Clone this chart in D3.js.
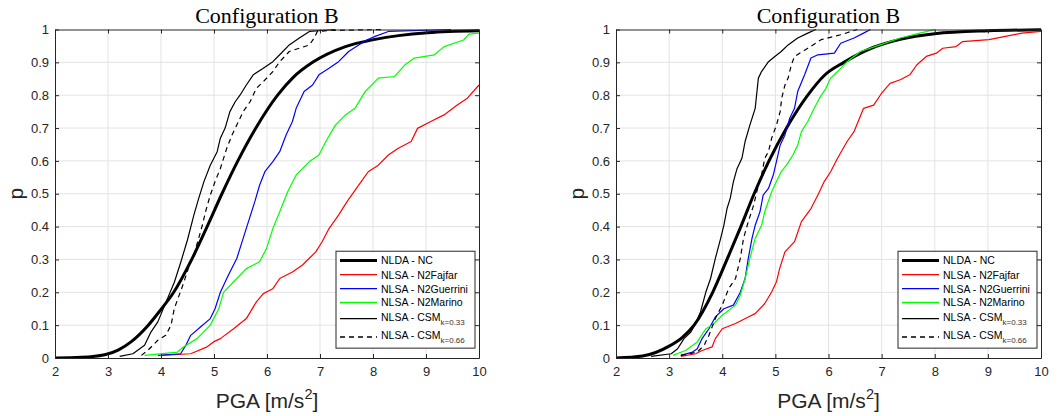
<!DOCTYPE html>
<html>
<head>
<meta charset="utf-8">
<script src="https://cdn.jsdelivr.net/npm/d3@7"></script>
<style>
    body { margin: 0; background: #fff; }
    svg { display: block; }
</style>
</head>
<body>
<svg id="chart" width="1059" height="416"></svg>
<script>
; (function () {

    // tick values / labels
    var xTicks = [2, 3, 4, 5, 6, 7, 8, 9, 10]
    var yTicks = [0, 0.1, 0.2, 0.3, 0.4, 0.5, 0.6, 0.7, 0.8, 0.9, 1]
    var yTickLabels = ["0", "0.1", "0.2", "0.3", "0.4", "0.5", "0.6", "0.7", "0.8", "0.9", "1"]

    var panelTitles = ["Configuration B", "Configuration B"]
    var seriesNames = ["NLDA - NC", "NLSA - N2Fajfar", "NLSA - N2Guerrini", "NLSA - N2Marino", "NLSA - CSM", "NLSA - CSM"]
    var seriesSubs = ["", "", "", "", "k=0.33", "k=0.66"]

    // left panel: [PGA, p]
    var leftNC = [[2, 0], [2.5, 0.002], [2.94, 0.01], [3.2, 0.025], [3.44, 0.05], [3.76, 0.1], [4.0, 0.148], [4.24, 0.2], [4.58, 0.3], [4.87, 0.4], [5.15, 0.5], [5.45, 0.6], [5.79, 0.7], [6.2, 0.8], [6.5, 0.855], [6.86, 0.9], [7.48, 0.948], [8.04, 0.97], [9.03, 0.99], [10, 0.996]]
    var leftFajfar = [[4.0, 0.008], [4.56, 0.013], [4.87, 0.034], [4.99, 0.049], [5.12, 0.059], [5.37, 0.089], [5.61, 0.12], [5.8, 0.171], [5.93, 0.196], [6.11, 0.211], [6.24, 0.242], [6.48, 0.262], [6.67, 0.283], [6.92, 0.323], [7.04, 0.354], [7.17, 0.394], [7.35, 0.435], [7.51, 0.476], [7.73, 0.526], [7.91, 0.567], [8.1, 0.587], [8.29, 0.618], [8.47, 0.638], [8.72, 0.659], [8.84, 0.699], [9.09, 0.72], [9.34, 0.74], [9.59, 0.77], [9.78, 0.791], [10, 0.831]]
    var leftGuerrini = [[3.94, 0.008], [4.37, 0.013], [4.47, 0.039], [4.56, 0.069], [4.75, 0.095], [4.93, 0.12], [5.02, 0.15], [5.12, 0.2], [5.27, 0.252], [5.43, 0.303], [5.55, 0.364], [5.65, 0.415], [5.77, 0.476], [5.86, 0.526], [5.96, 0.567], [6.11, 0.598], [6.24, 0.628], [6.36, 0.679], [6.48, 0.72], [6.55, 0.76], [6.7, 0.811], [6.86, 0.831], [6.98, 0.862], [7.17, 0.882], [7.35, 0.902], [7.54, 0.933], [7.73, 0.953], [7.88, 0.968], [8.04, 0.979], [8.29, 0.994], [9.47, 1]]
    var leftMarino = [[3.69, 0.008], [4.31, 0.018], [4.43, 0.034], [4.68, 0.059], [4.93, 0.1], [5.09, 0.15], [5.18, 0.2], [5.43, 0.242], [5.61, 0.272], [5.86, 0.293], [5.99, 0.333], [6.11, 0.394], [6.24, 0.445], [6.39, 0.506], [6.55, 0.557], [6.8, 0.598], [6.98, 0.618], [7.11, 0.659], [7.29, 0.709], [7.48, 0.74], [7.66, 0.76], [7.85, 0.811], [8.1, 0.852], [8.41, 0.857], [8.6, 0.892], [8.78, 0.913], [9.16, 0.923], [9.34, 0.948], [9.71, 0.968], [9.81, 0.986], [10, 0.989]]
    var leftCsm33 = [[3.22, 0.005], [3.47, 0.013], [3.69, 0.039], [3.81, 0.079], [3.94, 0.11], [4.03, 0.145], [4.12, 0.18], [4.25, 0.23], [4.37, 0.29], [4.5, 0.36], [4.62, 0.435], [4.71, 0.485], [4.81, 0.537], [4.93, 0.587], [5.06, 0.628], [5.12, 0.669], [5.21, 0.7], [5.3, 0.75], [5.4, 0.78], [5.49, 0.8], [5.61, 0.831], [5.74, 0.862], [5.93, 0.882], [6.11, 0.902], [6.24, 0.923], [6.42, 0.953], [6.61, 0.974], [6.8, 0.994], [7.04, 0.997], [7.29, 1]]
    var leftCsm66 = [[3.63, 0.008], [3.75, 0.023], [3.94, 0.054], [4.09, 0.069], [4.19, 0.1], [4.25, 0.15], [4.34, 0.19], [4.43, 0.23], [4.53, 0.28], [4.62, 0.313], [4.71, 0.364], [4.78, 0.404], [4.84, 0.445], [4.93, 0.496], [5.02, 0.537], [5.12, 0.577], [5.24, 0.638], [5.34, 0.679], [5.43, 0.709], [5.55, 0.75], [5.68, 0.78], [5.8, 0.821], [5.93, 0.841], [6.11, 0.872], [6.24, 0.902], [6.42, 0.933], [6.61, 0.943], [6.8, 0.953], [6.89, 0.974], [6.95, 0.994], [7.17, 0.997], [8.22, 1]]

    // right panel: [PGA, p]
    var rightNC = [[2, 0], [2.5, 0.006], [3, 0.036], [3.25, 0.063], [3.47, 0.1], [3.82, 0.2], [4.09, 0.3], [4.35, 0.4], [4.6, 0.5], [4.88, 0.6], [5.21, 0.7], [5.61, 0.8], [5.92, 0.86], [6.29, 0.9], [6.85, 0.946], [7.35, 0.97], [8, 0.987], [9, 0.996], [10, 0.999]]
    var rightFajfar = [[3.22, 0.005], [3.5, 0.013], [3.62, 0.023], [3.81, 0.034], [3.87, 0.059], [4.0, 0.089], [4.25, 0.105], [4.49, 0.125], [4.62, 0.135], [4.8, 0.166], [4.93, 0.201], [5.02, 0.232], [5.08, 0.272], [5.18, 0.323], [5.36, 0.354], [5.49, 0.415], [5.67, 0.455], [5.8, 0.496], [5.92, 0.537], [6.04, 0.567], [6.17, 0.608], [6.35, 0.659], [6.48, 0.689], [6.66, 0.76], [6.85, 0.77], [7.0, 0.806], [7.16, 0.836], [7.35, 0.847], [7.53, 0.862], [7.66, 0.892], [7.84, 0.918], [8.03, 0.928], [8.15, 0.943], [8.4, 0.948], [8.52, 0.963], [9.02, 0.969], [9.33, 0.979], [9.64, 0.989], [10, 0.994]]
    var rightGuerrini = [[3.22, 0.008], [3.44, 0.018], [3.53, 0.028], [3.62, 0.059], [3.75, 0.089], [3.87, 0.125], [4.03, 0.15], [4.21, 0.161], [4.34, 0.2], [4.43, 0.242], [4.49, 0.303], [4.56, 0.364], [4.62, 0.404], [4.71, 0.445], [4.77, 0.496], [4.87, 0.516], [4.96, 0.557], [5.02, 0.598], [5.09, 0.648], [5.18, 0.679], [5.27, 0.73], [5.36, 0.76], [5.42, 0.811], [5.55, 0.862], [5.67, 0.913], [5.8, 0.923], [6.11, 0.928], [6.23, 0.958], [6.48, 0.974], [6.66, 0.989], [6.79, 1]]
    var rightMarino = [[3.07, 0.008], [3.31, 0.023], [3.53, 0.049], [3.69, 0.089], [3.81, 0.1], [4.0, 0.13], [4.25, 0.161], [4.34, 0.191], [4.43, 0.242], [4.52, 0.303], [4.62, 0.364], [4.74, 0.404], [4.8, 0.445], [4.93, 0.506], [5.02, 0.537], [5.11, 0.567], [5.21, 0.587], [5.33, 0.618], [5.42, 0.648], [5.49, 0.689], [5.61, 0.72], [5.73, 0.76], [5.83, 0.791], [5.95, 0.821], [6.04, 0.852], [6.17, 0.872], [6.35, 0.902], [6.6, 0.933], [6.97, 0.953], [7.35, 0.974], [7.72, 0.989], [8.0, 1]]
    var rightCsm33 = [[2.66, 0.005], [3.04, 0.013], [3.16, 0.028], [3.28, 0.059], [3.41, 0.079], [3.5, 0.105], [3.59, 0.14], [3.69, 0.2], [3.78, 0.242], [3.87, 0.303], [3.97, 0.364], [4.03, 0.404], [4.09, 0.455], [4.15, 0.486], [4.21, 0.537], [4.28, 0.577], [4.37, 0.608], [4.43, 0.659], [4.52, 0.709], [4.62, 0.76], [4.68, 0.852], [4.74, 0.872], [4.87, 0.902], [4.99, 0.918], [5.11, 0.933], [5.24, 0.953], [5.42, 0.974], [5.61, 0.989], [5.76, 1]]
    var rightCsm66 = [[3.22, 0.008], [3.53, 0.018], [3.66, 0.039], [3.75, 0.069], [3.87, 0.12], [4.0, 0.161], [4.12, 0.211], [4.25, 0.242], [4.34, 0.303], [4.4, 0.364], [4.49, 0.415], [4.59, 0.465], [4.68, 0.526], [4.74, 0.557], [4.8, 0.608], [4.87, 0.628], [4.93, 0.669], [5.02, 0.709], [5.09, 0.75], [5.12, 0.791], [5.18, 0.831], [5.24, 0.852], [5.3, 0.892], [5.36, 0.918], [5.61, 0.943], [5.86, 0.969], [6.23, 0.984], [6.54, 1]]

    var leftSeries = [leftNC, leftFajfar, leftGuerrini, leftMarino, leftCsm33, leftCsm66]
    var rightSeries = [rightNC, rightFajfar, rightGuerrini, rightMarino, rightCsm33, rightCsm66]

    // line styles, same order as seriesNames
    var styles = [
        { color: "#000000", width: 3, dash: null, smooth: true },
        { color: "#ff0000", width: 1.2, dash: null },
        { color: "#0000ff", width: 1.2, dash: null },
        { color: "#00ff00", width: 1.2, dash: null },
        { color: "#000000", width: 1.2, dash: null },
        { color: "#000000", width: 1.2, dash: "5,4" }
    ]

    var svg = d3.select("#chart")
    var axisColor = "#262626"
    var sans = "'Liberation Sans', Arial, Helvetica, sans-serif"

    drawPanel(0, { left: 55, right: 479, top: 29.5, bottom: 358 }, leftSeries)
    drawPanel(1, { left: 616, right: 1041, top: 29.5, bottom: 358 }, rightSeries)

    function drawPanel(idx, box, series) {
        var x = d3.scaleLinear().domain([2, 10]).range([box.left, box.right])
        var y = d3.scaleLinear().domain([0, 1]).range([box.bottom, box.top])
        var g = svg.append("g")

        var clipId = "clip" + idx
        svg.append("clipPath").attr("id", clipId)
            .append("rect")
            .attr("x", box.left).attr("y", box.top - 2)
            .attr("width", box.right - box.left).attr("height", box.bottom - box.top + 2)

        // grid
        g.selectAll(".vg").data(xTicks.slice(1, -1)).enter().append("line")
            .attr("x1", d => x(d)).attr("x2", d => x(d))
            .attr("y1", box.top).attr("y2", box.bottom)
            .attr("stroke", "#e3e3e3").attr("stroke-width", 1)
        g.selectAll(".hg").data(yTicks.slice(1, -1)).enter().append("line")
            .attr("y1", d => y(d)).attr("y2", d => y(d))
            .attr("x1", box.left).attr("x2", box.right)
            .attr("stroke", "#e3e3e3").attr("stroke-width", 1)

        // curves
        var lines = g.append("g").attr("clip-path", "url(#" + clipId + ")")
        series.forEach(function (data, i) {
            var st = styles[i]
            var line = d3.line()
                .x(d => x(d[0]))
                .y(d => y(d[1]))
                .curve(st.smooth ? d3.curveMonotoneX : d3.curveLinear)
            lines.append("path")
                .datum(data)
                .attr("d", line)
                .attr("fill", "none")
                .attr("stroke", st.color)
                .attr("stroke-width", st.width)
                .attr("stroke-dasharray", st.dash)
                .attr("stroke-linejoin", "round")
        })

        // axes: bottom/left with labels, top/right ticks only
        var tk = 4
        var xa = g.append("g").attr("transform", "translate(0," + box.bottom + ")")
            .call(d3.axisBottom(x).tickValues(xTicks).tickSizeInner(-tk).tickSizeOuter(0).tickPadding(9))
        var xt = g.append("g").attr("transform", "translate(0," + box.top + ")")
            .call(d3.axisTop(x).tickValues(xTicks).tickSizeInner(-tk).tickSizeOuter(0).tickFormat(""))
        var ya = g.append("g").attr("transform", "translate(" + box.left + ",0)")
            .call(d3.axisLeft(y).tickValues(yTicks).tickSizeInner(-tk).tickSizeOuter(0).tickPadding(6)
                .tickFormat((d, i) => yTickLabels[i]))
        var yr = g.append("g").attr("transform", "translate(" + box.right + ",0)")
            .call(d3.axisRight(y).tickValues(yTicks).tickSizeInner(-tk).tickSizeOuter(0).tickFormat(""))

        ;[xa, xt, ya, yr].forEach(function (a) {
            a.select(".domain").attr("stroke", axisColor)
            a.selectAll(".tick line").attr("stroke", axisColor)
            a.selectAll("text").attr("fill", axisColor)
                .style("font-family", sans).style("font-size", "13px")
        })

        // title
        g.append("text")
            .attr("x", (box.left + box.right) / 2).attr("y", 23)
            .attr("text-anchor", "middle")
            .style("font-family", "'Liberation Serif', 'Times New Roman', serif")
            .style("font-size", "22px")
            .attr("fill", "#000")
            .text(panelTitles[idx])

        // axis labels
        var xl = g.append("text")
            .attr("x", (box.left + box.right) / 2).attr("y", 408)
            .attr("text-anchor", "middle")
            .style("font-family", sans).style("font-size", "21px")
            .attr("fill", axisColor)
        xl.append("tspan").text("PGA [m/s")
        xl.append("tspan").attr("dy", -9).style("font-size", "14.5px").text("2")
        xl.append("tspan").attr("dy", 9).text("]")

        g.append("text")
            .attr("transform", "translate(" + (box.left - 32) + "," + ((box.top + box.bottom) / 2) + ") rotate(-90)")
            .attr("text-anchor", "middle")
            .style("font-family", sans).style("font-size", "21px")
            .attr("fill", axisColor)
            .text("p")

        // legend, tucked into the lower right corner
        var lx1 = box.right - 4, lx0 = lx1 - 139
        var lg = g.append("g")
        lg.append("rect")
            .attr("x", lx0).attr("y", y(0.325))
            .attr("width", lx1 - lx0).attr("height", y(0.03) - y(0.325))
            .attr("fill", "#fff").attr("stroke", axisColor).attr("stroke-width", 1)
        var rowP = [0.297, 0.254, 0.211, 0.169, 0.12, 0.064]
        seriesNames.forEach(function (name, i) {
            var st = styles[i]
            var ry = y(rowP[i])
            lg.append("line")
                .attr("x1", lx0 + 4).attr("x2", lx0 + 41)
                .attr("y1", ry).attr("y2", ry)
                .attr("stroke", st.color)
                .attr("stroke-width", i === 0 ? 3 : 1.3)
                .attr("stroke-dasharray", st.dash)
            var t = lg.append("text")
                .attr("x", lx0 + 45).attr("y", ry + (seriesSubs[i] ? 2.5 : 4))
                .style("font-family", sans).style("font-size", "10.5px")
                .attr("fill", "#000")
            t.append("tspan").text(name)
            if (seriesSubs[i]) {
                t.append("tspan").attr("dy", 4).style("font-size", "8px").attr("fill", "#333").text(seriesSubs[i])
            }
        })
    }

})();
</script>
</body>
</html>
